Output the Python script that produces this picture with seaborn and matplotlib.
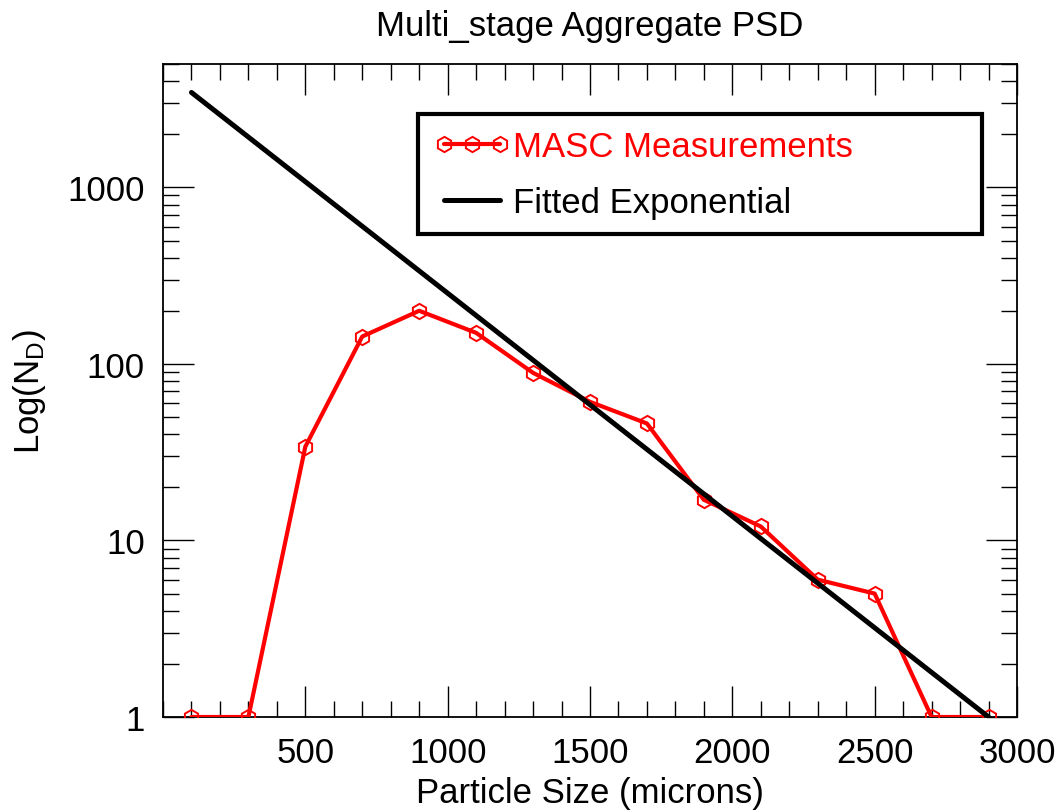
import matplotlib
matplotlib.use("Agg")
import matplotlib.pyplot as plt
import seaborn as sns
import numpy as np
import pandas as pd
from matplotlib.ticker import FixedLocator, MultipleLocator, LogLocator, NullFormatter

# Particle size distribution: bin centres (microns) and counts
sizes = [100, 300, 500, 700, 900, 1100, 1300, 1500, 1700, 1900, 2100, 2300, 2500, 2700, 2900]
counts = [1, 1, 34, 143, 200, 150, 89, 61, 46, 17, 12, 6, 5, 1, 1]

# Fitted exponential N(D) = N0 exp(-lambda D), straight on a log axis: its two end points
fit_sizes = [100, 2900]
fit_counts = [3450, 1.0]

x_ticks = [500, 1000, 1500, 2000, 2500, 3000]
y_ticks = [1, 10, 100, 1000]

sns.set_theme(style="ticks", rc={
    "text.color": "black", "axes.labelcolor": "black",
    "xtick.color": "black", "ytick.color": "black", "axes.edgecolor": "black",
})
plt.rcParams["font.family"] = ["Liberation Sans", "DejaVu Sans"]
plt.rcParams["mathtext.fontset"] = "custom"
plt.rcParams["mathtext.rm"] = "Liberation Sans"
plt.rcParams["mathtext.it"] = "Liberation Sans:italic"

FS = 25

df = pd.DataFrame({"size": sizes, "count": counts})
fit = pd.DataFrame({"size": fit_sizes, "count": fit_counts})

fig = plt.figure(figsize=(10.6, 8.12), dpi=100)
ax = fig.add_axes([163 / 1060, 1 - 718 / 812, 854 / 1060, 653 / 812])

sns.lineplot(data=df, x="size", y="count", ax=ax, color="red", lw=3.0,
             marker="h", markersize=11, markerfacecolor="none",
             markeredgecolor="red", markeredgewidth=1.4,
             label="MASC Measurements", zorder=3)
sns.lineplot(data=fit, x="size", y="count", ax=ax, color="black", lw=3.6,
             label="Fitted Exponential", zorder=4)

ax.set_yscale("log")
ax.set_xlim(0, 3000)
ax.set_ylim(1, 5000)

ax.xaxis.set_major_locator(FixedLocator(x_ticks))
ax.xaxis.set_minor_locator(MultipleLocator(100))
ax.set_xticklabels([str(v) for v in x_ticks])
ax.yaxis.set_major_locator(FixedLocator(y_ticks))
ax.yaxis.set_minor_locator(LogLocator(base=10, subs=np.arange(2, 10)))
ax.yaxis.set_minor_formatter(NullFormatter())
ax.set_yticklabels([str(v) for v in y_ticks])

ax.tick_params(which="both", direction="in", top=True, right=True, width=1.0)
ax.tick_params(which="major", length=22, labelsize=FS)
ax.tick_params(axis="x", which="major", pad=14)
ax.tick_params(axis="y", which="major", pad=13)
ax.tick_params(which="minor", length=11.5)
for sp in ax.spines.values():
    sp.set_linewidth(1.3)

ax.set_xlabel("Particle Size (microns)", fontsize=FS, labelpad=5)
ax.set_ylabel("Log(N$_\\mathrm{D}$)", fontsize=FS, labelpad=14)
ax.set_title("Multi_stage Aggregate PSD", fontsize=FS, pad=21)

leg = ax.legend(loc="upper left", bbox_to_anchor=(0.2986, 0.730, 0.66, 0.193),
                mode="expand", fontsize=FS, frameon=True, fancybox=False,
                numpoints=3, handlelength=2.2, handletextpad=0.1,
                borderpad=0.45, labelspacing=0.66, borderaxespad=0)
frame = leg.get_frame()
frame.set_edgecolor("black")
frame.set_linewidth(3.0)
frame.set_alpha(1)
leg.get_texts()[0].set_color("red")
leg.get_texts()[1].set_color("black")

fig.savefig("out.png", dpi=100)
